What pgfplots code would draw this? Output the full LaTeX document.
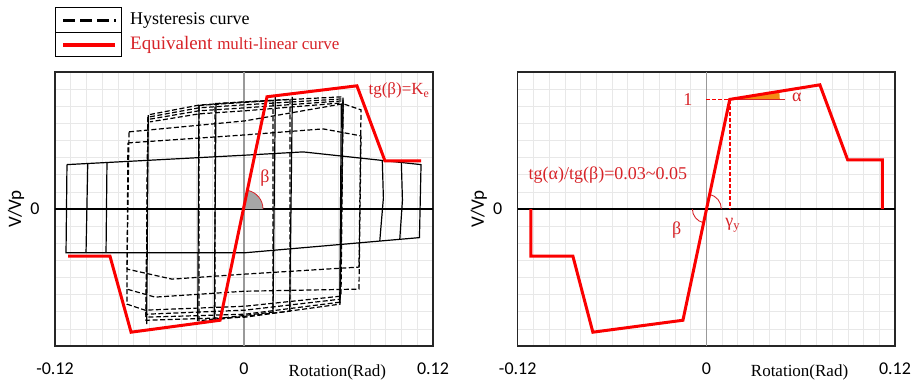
\documentclass[border=0pt]{standalone}
\usepackage{fontspec}
\setmainfont{Liberation Serif}
\newfontfamily\carlito{Carlito}
\usepackage{pgfplots}
\pgfplotsset{compat=1.18}
\definecolor{lred}{RGB}{250,0,0}
\definecolor{tred}{RGB}{215,35,40}
\definecolor{worange}{RGB}{245,140,20}
\pgfplotsset{
 panel/.style={
  scale only axis, width=378pt, height=274pt,
  xmin=-0.12, xmax=0.12, ymin=-1.25, ymax=1.25,
  xtick={-0.12,0,0.12}, xticklabels={-0.12,0,0.12},
  ytick={-1.25,0,1.25}, yticklabels={{},0,{}},
  minor x tick num=11, minor y tick num=7,
  major tick length=0pt, minor tick length=0pt,
  grid=both,
  minor grid style={draw=black!9, line width=0.7pt},
  major grid style={draw=black!9, line width=0.7pt},
  axis line style={draw=black!85, line width=1.5pt},
  tick label style={font=\carlito\fontsize{18}{20}\selectfont, text=black},
  xticklabel style={yshift=-13pt},
  yticklabel style={xshift=-12pt},
  xlabel={Rotation(Rad)},
  xlabel style={at={(axis description cs:0.747,0)}, anchor=center, yshift=-26pt, font=\fontsize{17}{19}\selectfont},
  ylabel={V/Vp},
  ylabel style={at={(axis description cs:-0.103,0.5)}, anchor=center, font=\carlito\fontsize{19}{21}\selectfont},
  clip=false,
 },
 hyst/.style={black, line width=1.2pt},
 hystd/.style={black, line width=1.2pt, dash pattern=on 5pt off 2.5pt},
 eq/.style={lred, line width=3pt},
}
\begin{document}
\begin{tikzpicture}
\path[use as bounding box] (0pt,0pt) rectangle (917pt,381pt);
% legend
\draw[black, line width=1pt] (55pt,324pt) rectangle (121pt,373pt);
\draw[black, line width=1pt] (55pt,348.5pt) -- (121pt,348.5pt);
\draw[black, line width=2.4pt, dash pattern=on 12pt off 5pt] (63pt,360.5pt) -- (116pt,360.5pt);
\draw[lred, line width=3.2pt] (63pt,336pt) -- (115pt,336pt);
\node[anchor=west, inner sep=0pt] at (130pt,361pt) {\fontsize{18}{20}\selectfont Hysteresis curve};
\node[anchor=west, inner sep=0pt, text=tred] at (130pt,336pt) {\fontsize{19}{21}\selectfont Equivalent \fontsize{17}{19}\selectfont multi-linear curve};

% ---------------- left panel ----------------
\begin{axis}[panel, at={(55pt,35pt)}, anchor=south west]
\draw[black!40, line width=1.3pt] (axis cs:0,-1.25) -- (axis cs:0,1.25);
\draw[black, line width=1.2pt] (axis cs:-0.12,0) -- (axis cs:0.12,0);
% solid cycles
\addplot[hyst] coordinates {(-0.1124,0.405) (0.0006,0.491) (0.0375,0.521) (0.1124,0.405) (0.1114,-0.261) (0,-0.400) (-0.1130,-0.400) (-0.1124,0.405)};
\addplot[hyst] coordinates {(-0.0992,0.415) (-0.1003,-0.400)};
\addplot[hyst] coordinates {(-0.0870,0.424) (-0.0876,-0.400)};
\addplot[hyst] coordinates {(0.0878,0.443) (0.0885,0.10) (0.0862,-0.292)};
\addplot[hyst] coordinates {(0.0999,0.424) (0.1006,0.08) (0.0989,-0.277)};
\addplot[hyst] coordinates {(-0.0608,0.856) (-0.0618,-1.051)};
\addplot[hyst] coordinates {(-0.0286,0.948) (-0.0294,-1.024)};
\addplot[hyst] coordinates {(-0.0178,0.962) (-0.0189,-1.008)};
\addplot[hyst] coordinates {(0.0199,1.024) (0.0184,-0.948)};
\addplot[hyst] coordinates {(0.0307,1.024) (0.0290,-0.932)};
\addplot[hyst] coordinates {(0.0618,0.960) (0.0608,-0.857)};
% dashed cycles
\addplot[hystd] coordinates {(-0.0730,0.704) (0.0006,0.804) (0.0629,0.960) (0.0743,0.905) (0.0730,-0.530) (0.0006,-0.594) (-0.0457,-0.640) (-0.0743,-0.548) (-0.0730,0.704)};
\addplot[hystd] coordinates {(-0.0737,0.603) (0.0006,0.676) (0.0502,0.731) (0.0743,0.667) (0.0730,-0.731) (0.0006,-0.750) (-0.0565,-0.804) (-0.0743,-0.731) (-0.0737,0.603)};
\addplot[hystd] coordinates {(-0.0743,-0.731) (-0.0743,-0.868) (-0.0629,-0.923) (0.0006,-0.887) (0.0616,-0.795) (0.0629,0.969) (0.0006,0.896) (-0.0286,0.868) (-0.0597,0.795)};
\addplot[hystd] coordinates {(-0.0597,0.820) (-0.0286,0.896) (0.0006,0.923) (0.0629,0.987) (0.0610,-0.823) (0.0006,-0.923) (-0.0622,-0.960) (-0.0610,0.820)};
\addplot[hystd] coordinates {(-0.0597,0.841) (-0.0286,0.923) (0.0006,0.951) (0.0629,1.005) (0.0610,-0.850) (0.0006,-0.960) (-0.0622,-0.987) (-0.0610,0.841)};
\addplot[hystd] coordinates {(-0.0597,0.862) (-0.0286,0.948) (0.0006,0.978) (0.0629,1.024) (0.0610,-0.868) (0.0006,-0.987) (-0.0622,-1.015) (-0.0610,0.862)};
\addplot[hystd] coordinates {(-0.0184,0.962) (0.0292,1.0) (0.0292,-0.932) (-0.0184,-1.010) (-0.0184,0.962)};
\addplot[hystd] coordinates {(-0.0286,0.945) (0.0184,0.99) (0.0184,-0.94) (-0.0286,-1.02) (-0.0286,0.945)};
% angle wedge
\fill[black!35] (axis cs:0,0) -- ++(19pt,0pt) arc[start angle=0, end angle=78, radius=19pt] -- cycle;
\draw[tred, line width=0.8pt] (axis cs:0,0) ++(19pt,0pt) arc[start angle=0, end angle=78, radius=19pt];
% equivalent curve
\addplot[eq] coordinates {(-0.1117,-0.43) (-0.0851,-0.43) (-0.0717,-1.124) (-0.0152,-1.015) (0.0146,1.024) (0.0717,1.124) (0.0895,0.439) (0.1124,0.439)};
\node[text=tred, font=\fontsize{17}{19}\selectfont] at (axis cs:0.0984,1.079) {tg(β)=K\textsubscript{e}};
\node[text=tred, font=\fontsize{18}{20}\selectfont] at (axis cs:0.0133,0.283) {β};
\end{axis}

% ---------------- right panel ----------------
\begin{axis}[panel, at={(517.7pt,35pt)}, anchor=south west, width=377.3pt]
\draw[black!40, line width=1.3pt] (axis cs:0,-1.25) -- (axis cs:0,1.25);
\draw[black, line width=1.2pt] (axis cs:-0.12,0) -- (axis cs:0.12,0);
\fill[worange] (axis cs:0.0149,1) -- ++(50pt,0pt) arc[start angle=0, end angle=9.2, radius=50pt] -- cycle;
\draw[tred, line width=1.5pt] (axis cs:0.0149,1) -- (axis cs:0.0499,1);
\draw[lred, line width=1.5pt, dash pattern=on 4pt off 2pt] (axis cs:0,1) -- (axis cs:0.0149,1) -- (axis cs:0.0149,0);
\draw[tred, line width=0.9pt] (axis cs:0,0) ++(-14pt,0pt) arc[start angle=180, end angle=258, radius=14pt];
\draw[tred, line width=0.9pt] (axis cs:0,0) ++(15pt,0pt) arc[start angle=0, end angle=78, radius=15pt];
\addplot[eq] coordinates {(-0.1116,0) (-0.1116,-0.43) (-0.0849,-0.43) (-0.0722,-1.124) (-0.0149,-1.015) (0.0149,1.0) (0.0722,1.133) (0.0899,0.448) (0.112,0.448) (0.112,0)};
\node[text=tred, font=\fontsize{18}{20}\selectfont] at (axis cs:-0.0118,0.996) {1};
\node[text=tred, font=\fontsize{18}{20}\selectfont] at (axis cs:0.0575,1.015) {α};
\node[text=tred, font=\fontsize{18}{20}\selectfont] at (axis cs:-0.0626,0.311) {tg(α)/tg(β)=0.03\textasciitilde 0.05};
\node[text=tred, font=\fontsize{18}{20}\selectfont] at (axis cs:-0.0188,-0.192) {β};
\node[text=tred, font=\fontsize{18}{20}\selectfont] at (axis cs:0.0168,-0.146) {γ\textsubscript{y}};
\end{axis}
\end{tikzpicture}
\end{document}
